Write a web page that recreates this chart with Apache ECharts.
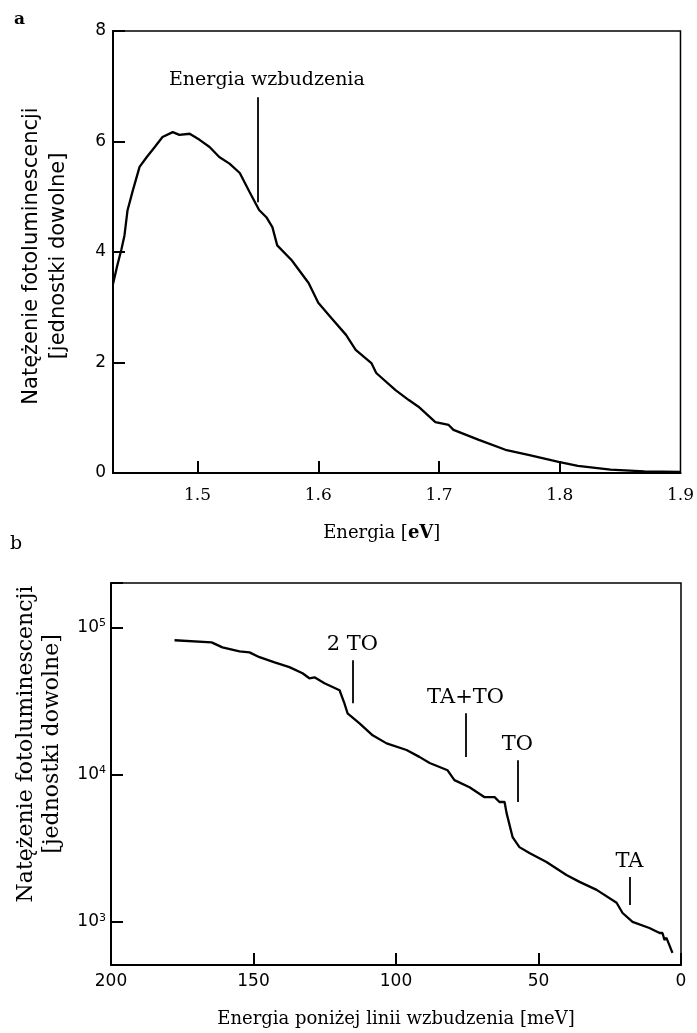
<!DOCTYPE html>
<html>
<head>
<meta charset="utf-8">
<title>Fotoluminescencja</title>
<script src="https://cdn.jsdelivr.net/npm/echarts@6/dist/echarts.min.js"></script>
<style>
  html, body { margin: 0; padding: 0; background: #fff; }
  #main { width: 697px; height: 1033px; }
</style>
</head>
<body>
<div id="main"></div>
<script>
// --- panel a: widmo fotoluminescencji ---
var energyA = [1.430, 1.4335, 1.437, 1.4395, 1.442, 1.4465, 1.452, 1.458, 1.4646, 1.471, 1.4795, 1.485,
  1.4935, 1.5017, 1.510, 1.518, 1.5265, 1.535, 1.543, 1.551, 1.557, 1.562, 1.566, 1.578, 1.592, 1.600,
  1.611, 1.623, 1.631, 1.644, 1.648, 1.664, 1.675, 1.683, 1.697, 1.708, 1.712, 1.733, 1.755, 1.774,
  1.799, 1.815, 1.842, 1.870, 1.900];
var intensityA = [3.42, 3.75, 4.05, 4.3, 4.75, 5.12, 5.54, 5.72, 5.9, 6.08, 6.17, 6.12,
  6.14, 6.03, 5.9, 5.72, 5.6, 5.43, 5.09, 4.76, 4.63, 4.45, 4.12, 3.85, 3.44, 3.08,
  2.8, 2.5, 2.23, 1.99, 1.81, 1.5, 1.32, 1.2, 0.92, 0.87, 0.78, 0.6, 0.42, 0.33,
  0.2, 0.13, 0.06, 0.03, 0.02];
var ticksA = [1.5, 1.6, 1.7, 1.8, 1.9];
var excitationA = 1.55;

// --- panel b: energia ponizej linii wzbudzenia ---
var energyB = [177.7, 164.7, 160.9, 154.9, 151.4, 147.9, 142.6, 137.4, 132.8, 130.4, 128.6, 125.1,
  119.8, 118.1, 117.0, 112.8, 108.2, 103.3, 96.3, 91.8, 88.2, 81.9, 79.5, 74.2, 68.9, 65.4,
  63.7, 61.9, 61.2, 59.1, 56.7, 53.2, 47.2, 40.2, 35.6, 29.6, 22.6, 20.5, 17.0, 11.1, 7.5,
  6.5, 5.8, 5.1, 3.0];
var intensityB = [81700, 79100, 73100, 68700, 67600, 62700, 57900, 53700, 48800, 45100, 45800, 41700,
  37400, 30500, 26100, 22300, 18500, 16300, 14700, 13200, 12000, 10700, 9180, 8220, 7030, 7030,
  6520, 6520, 5480, 3770, 3220, 2940, 2550, 2080, 1870, 1650, 1350, 1150, 1000, 910, 841,
  841, 755, 780, 617];
var ticksB = [1000, 10000, 100000];
var phononNames = ['2 TO', 'TA+TO', 'TO', 'TA'];
var phononPos = [115.3, 75.6, 57.4, 18.1];
var phononTop = [59700, 26100, 12530, 2020];
var phononBottom = [30500, 13150, 6520, 1303];

var serif = '"DejaVu Serif", "Liberation Serif", serif';
var sans = '"DejaVu Sans", "Liberation Sans", sans-serif';

function pairs(xs, ys) {
  return xs.map(function (x, i) { return [x, ys[i]]; });
}

var chart = echarts.init(document.getElementById('main'));

var axisLine = { show: true, onZero: false, lineStyle: { color: '#000', width: 2 } };
var tick = { show: true, inside: true, length: 12, lineStyle: { color: '#000', width: 2 } };

var phononLines = phononNames.map(function (name, i) {
  return [
    { coord: [phononPos[i], phononTop[i]], label: { formatter: name } },
    { coord: [phononPos[i], phononBottom[i]] }
  ];
});

chart.setOption({
  animation: false,
  backgroundColor: '#fff',
  title: [
    { text: 'a', left: 9, top: 6, textStyle: { fontFamily: serif, fontSize: 17, fontWeight: 'bold', color: '#000' } },
    { text: 'b', left: 5, top: 530, textStyle: { fontFamily: serif, fontSize: 19, fontWeight: 'normal', color: '#000' } }
  ],
  grid: [
    { left: 113, top: 31, width: 570, height: 442, show: true, borderColor: '#000', borderWidth: 1.5 },
    { left: 111, top: 583, width: 570, height: 382, show: true, borderColor: '#000', borderWidth: 1.5 }
  ],
  xAxis: [
    {
      gridIndex: 0, type: 'value', min: 1.43, max: 1.9,
      axisLine: axisLine,
      axisTick: Object.assign({}, tick, { customValues: [1.5, 1.6, 1.7, 1.8] }),
      axisLabel: {
        customValues: ticksA, margin: 14, color: '#000', fontFamily: serif, fontSize: 17,
        formatter: function (v) { return v.toFixed(1); }
      },
      splitLine: { show: false },
      name: 'Energia [{b|eV}]', nameLocation: 'middle', nameGap: 51,
      nameTextStyle: {
        fontFamily: serif, fontSize: 18, color: '#000', padding: [0, 30, 0, 0],
        rich: { b: { fontFamily: serif, fontSize: 18, fontWeight: 'bold', color: '#000' } }
      }
    },
    {
      gridIndex: 1, type: 'value', min: 0, max: 200, interval: 50, inverse: true,
      axisLine: axisLine,
      axisTick: tick,
      axisLabel: { margin: 8, color: '#000', fontFamily: sans, fontSize: 17 },
      splitLine: { show: false },
      name: 'Energia poniżej linii wzbudzenia [meV]', nameLocation: 'middle', nameGap: 45,
      nameTextStyle: { fontFamily: serif, fontSize: 18, color: '#000' }
    }
  ],
  yAxis: [
    {
      gridIndex: 0, type: 'value', min: 0, max: 8, interval: 2,
      axisLine: axisLine,
      axisTick: tick,
      axisLabel: { margin: 7, color: '#000', fontFamily: sans, fontSize: 17 },
      splitLine: { show: false },
      name: 'Natężenie fotoluminescencji\n[jednostki dowolne]', nameLocation: 'middle', nameGap: 41,
      nameTextStyle: { fontFamily: sans, fontSize: 21, color: '#000', lineHeight: 27, padding: [0, 8, 0, 0] }
    },
    {
      gridIndex: 1, type: 'log', logBase: 10, min: 510, max: 200000,
      axisLine: axisLine,
      axisTick: tick,
      axisLabel: {
        customValues: ticksB, margin: 5, color: '#000', fontFamily: sans, fontSize: 17,
        formatter: function (v) { return '10{s|' + Math.round(Math.log10(v)) + '}'; },
        rich: { s: { fontSize: 11, fontFamily: sans, color: '#000', verticalAlign: 'top', padding: [0, 0, 8, 0] } }
      },
      splitLine: { show: false },
      name: 'Natężenie fotoluminescencji\n[jednostki dowolne]', nameLocation: 'middle', nameGap: 46,
      nameTextStyle: { fontFamily: serif, fontSize: 22, color: '#000', lineHeight: 26, padding: [0, 0, 0, 60] }
    }
  ],
  series: [
    {
      type: 'line', xAxisIndex: 0, yAxisIndex: 0,
      data: pairs(energyA, intensityA),
      showSymbol: false, silent: true,
      lineStyle: { color: '#000', width: 2.3 },
      markLine: {
        silent: true, symbol: 'none',
        lineStyle: { color: '#000', width: 1.8, type: 'solid' },
        label: { show: true, position: 'start', distance: 8, color: '#000', fontFamily: serif, fontSize: 19,
          formatter: 'Energia wzbudzenia', offset: [9, 0] },
        data: [[{ coord: [excitationA, 6.8] }, { coord: [excitationA, 4.9] }]]
      }
    },
    {
      type: 'line', xAxisIndex: 1, yAxisIndex: 1,
      data: pairs(energyB, intensityB),
      showSymbol: false, silent: true,
      lineStyle: { color: '#000', width: 2.3 },
      markLine: {
        silent: true, symbol: 'none',
        lineStyle: { color: '#000', width: 1.8, type: 'solid' },
        label: { show: true, position: 'start', distance: 5, color: '#000', fontFamily: serif, fontSize: 21 },
        data: phononLines
      }
    }
  ]
});
</script>
</body>
</html>
